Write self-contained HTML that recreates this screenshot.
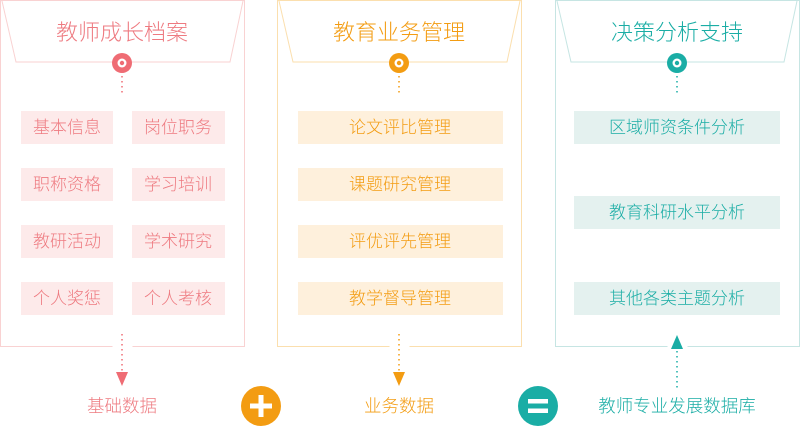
<!DOCTYPE html>
<html><head><meta charset="utf-8"><style>
html,body{margin:0;padding:0;background:#fff;}
svg{display:block;}
text{font-family:"Liberation Sans","Noto Sans CJK SC",sans-serif;font-weight:300;}
</style></head><body>
<svg width="800" height="428" viewBox="0 0 800 428" xmlns="http://www.w3.org/2000/svg">
<g>
<path d="M112.5,346.5 H0.5 V0.5 H244.5 V346.5 H132.5" fill="none" stroke="#f9d2d2" stroke-width="1"/>
<polyline points="2,1 16,62 230,62 243,1" fill="none" stroke="#f9d2d2" stroke-width="1"/>
<text x="122" y="40" font-size="22" fill="#ee7a80" text-anchor="middle">教师成长档案</text>
<circle cx="122" cy="63" r="10" fill="#ef6c74"/><circle cx="122" cy="63" r="4.5" fill="#fff"/><circle cx="122" cy="63" r="2.2" fill="#ef6c74"/>
<line x1="122" y1="76" x2="122" y2="94" stroke="#ef6c74" stroke-width="1.5" stroke-dasharray="1.5,3.5"/>
<g fill="#fdeaea">
<rect x="21" y="111" width="92" height="33"/><rect x="132" y="111" width="93" height="33"/>
<rect x="21" y="168" width="92" height="33"/><rect x="132" y="168" width="93" height="33"/>
<rect x="21" y="225" width="92" height="33"/><rect x="132" y="225" width="93" height="33"/>
<rect x="21" y="282" width="92" height="33"/><rect x="132" y="282" width="93" height="33"/>
</g>
<g font-size="17" fill="#ee7a80" text-anchor="middle">
<text x="67" y="133">基本信息</text><text x="178" y="133">岗位职务</text>
<text x="67" y="190">职称资格</text><text x="178" y="190">学习培训</text>
<text x="67" y="247">教研活动</text><text x="178" y="247">学术研究</text>
<text x="67" y="304">个人奖惩</text><text x="178" y="304">个人考核</text>
</g>
<line x1="122" y1="334" x2="122" y2="372" stroke="#ef6c74" stroke-width="1.5" stroke-dasharray="1.5,3.5"/>
<polygon points="116,372 128,372 122,386" fill="#ef6c74"/>
<text x="122" y="412" font-size="17.5" fill="#ee7a80" text-anchor="middle">基础数据</text>
</g>
<g>
<path d="M389.5,346.5 H277.5 V0.5 H521.5 V346.5 H409.5" fill="none" stroke="#fbdfae" stroke-width="1"/>
<polyline points="279,1 293,62 507,62 520,1" fill="none" stroke="#fbdfae" stroke-width="1"/>
<text x="399" y="40" font-size="22" fill="#f39c12" text-anchor="middle">教育业务管理</text>
<circle cx="399" cy="63" r="10" fill="#f39c12"/><circle cx="399" cy="63" r="4.5" fill="#fff"/><circle cx="399" cy="63" r="2.2" fill="#f39c12"/>
<line x1="399" y1="76" x2="399" y2="94" stroke="#f39c12" stroke-width="1.5" stroke-dasharray="1.5,3.5"/>
<g fill="#fef0dc">
<rect x="298" y="111" width="205" height="33"/><rect x="298" y="168" width="205" height="33"/>
<rect x="298" y="225" width="205" height="33"/><rect x="298" y="282" width="205" height="33"/>
</g>
<g font-size="17" fill="#f39c12" text-anchor="middle">
<text x="400" y="133">论文评比管理</text><text x="400" y="190">课题研究管理</text>
<text x="400" y="247">评优评先管理</text><text x="400" y="304">教学督导管理</text>
</g>
<line x1="399" y1="334" x2="399" y2="372" stroke="#f39c12" stroke-width="1.5" stroke-dasharray="1.5,3.5"/>
<polygon points="393,372 405,372 399,386" fill="#f39c12"/>
<text x="399" y="412" font-size="17.5" fill="#f39c12" text-anchor="middle">业务数据</text>
</g>
<g>
<path d="M667.5,346.5 H555.5 V0.5 H799.5 V346.5 H687.5" fill="none" stroke="#c6e5e3" stroke-width="1"/>
<polyline points="557,1 571,62 784,62 797,1" fill="none" stroke="#c6e5e3" stroke-width="1"/>
<text x="677" y="40" font-size="22" fill="#1aada5" text-anchor="middle">决策分析支持</text>
<circle cx="677" cy="63" r="10" fill="#1aada5"/><circle cx="677" cy="63" r="4.5" fill="#fff"/><circle cx="677" cy="63" r="2.2" fill="#1aada5"/>
<line x1="677" y1="76" x2="677" y2="94" stroke="#1aada5" stroke-width="1.5" stroke-dasharray="1.5,3.5"/>
<g fill="#e4f1ef">
<rect x="574" y="111" width="206" height="33"/><rect x="574" y="196" width="206" height="33"/>
<rect x="574" y="282" width="206" height="33"/>
</g>
<g font-size="17" fill="#1aada5" text-anchor="middle">
<text x="677" y="133">区域师资条件分析</text><text x="677" y="218">教育科研水平分析</text>
<text x="677" y="304">其他各类主题分析</text>
</g>
<polygon points="671,349 683,349 677,335" fill="#1aada5"/>
<line x1="677" y1="351" x2="677" y2="388" stroke="#1aada5" stroke-width="1.5" stroke-dasharray="1.5,3.5"/>
<text x="677" y="412" font-size="17.5" fill="#1aada5" text-anchor="middle">教师专业发展数据库</text>
</g>
<circle cx="261" cy="406" r="20" fill="#f39c12"/>
<rect x="250" y="403.5" width="22" height="5" fill="#fff"/><rect x="258.5" y="395" width="5" height="22" fill="#fff"/>
<circle cx="538" cy="406" r="20" fill="#1aada5"/>
<rect x="528" y="399" width="20" height="4.5" fill="#fff"/><rect x="528" y="408.5" width="20" height="4.5" fill="#fff"/>
</svg>
</body></html>
